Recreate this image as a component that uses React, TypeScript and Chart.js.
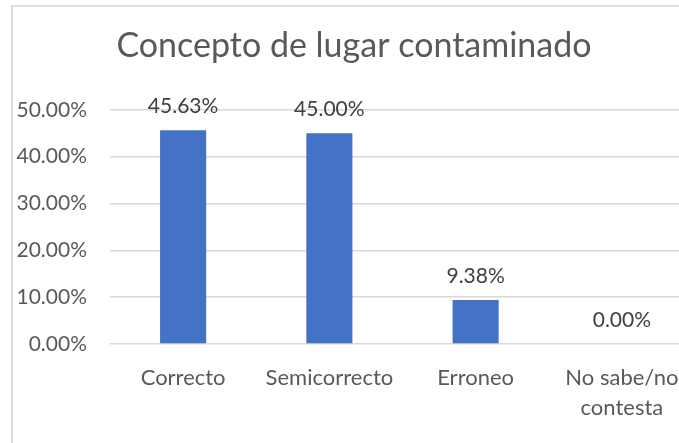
import React, { useEffect, useRef } from "react";
import { Chart, registerables } from "chart.js";

Chart.register(...registerables);

const categories: (string | string[])[] = ["Correcto", "Semicorrecto", "Erroneo", ["No sabe/no", "contesta"]];
const values: number[] = [45.63, 45.0, 9.38, 0.0];
const yTicks: number[] = [0, 10, 20, 30, 40, 50];
const titleText = "Concepto de lugar contaminado";

const FONT = "Lato, 'Open Sans', sans-serif";

const dataLabelPlugin = {
  id: "dataLabels",
  afterDatasetsDraw(chart: any) {
    const ctx = chart.ctx;
    const meta = chart.getDatasetMeta(0);
    ctx.save();
    ctx.font = `21px ${FONT}`;
    ctx.fillStyle = "#404040";
    ctx.textAlign = "center";
    ctx.textBaseline = "middle";
    meta.data.forEach((bar: any, i: number) => {
      const v = chart.data.datasets[0].data[i] as number;
      ctx.fillText(v.toFixed(2) + "%", bar.x, bar.y - 24);
    });
    ctx.restore();
  },
};

export default function App() {
  const ref = useRef<HTMLCanvasElement | null>(null);
  useEffect(() => {
    document.body.style.margin = "0";
    document.body.style.overflow = "hidden";
    if (!ref.current) return;
    const chart = new Chart(ref.current, {
      type: "bar",
      data: {
        labels: categories,
        datasets: [
          {
            data: values,
            backgroundColor: "#4472C4",
            barPercentage: 1,
            categoryPercentage: 0.315,
          },
        ],
      },
      options: {
        animation: false,
        responsive: false,
        layout: { padding: 0 },
        plugins: {
          legend: { display: false },
          tooltip: { enabled: false },
          title: {
            display: true,
            text: titleText,
            color: "#595959",
            font: { family: FONT, size: 34, weight: "normal" },
            padding: { top: 19, bottom: 43 },
          },
        },
        scales: {
          x: {
            grid: { display: false },
            border: { display: false },
            ticks: {
              color: "#595959",
              font: { family: FONT, size: 22, lineHeight: "30px" },
              padding: 11,
              maxRotation: 0,
              minRotation: 0,
              autoSkip: false,
            },
            afterFit: (s: any) => {
              s.height = 103;
            },
          },
          y: {
            min: 0,
            max: yTicks[yTicks.length - 1],
            afterBuildTicks: (s: any) => {
              s.ticks = yTicks.map((v) => ({ value: v }));
            },
            grid: { color: "#d9d9d9", lineWidth: 1.5, drawTicks: false },
            border: { display: false },
            ticks: {
              color: "#595959",
              font: { family: FONT, size: 21 },
              padding: 23,
              callback: (v: any) => Number(v).toFixed(2) + "%",
            },
            afterFit: (s: any) => {
              s.width = 97;
            },
          },
        },
      },
      plugins: [dataLabelPlugin],
    });
    return () => chart.destroy();
  }, []);

  return (
    <div style={{ position: "relative", width: 679, height: 443, overflow: "hidden", background: "#fff" }}>
      <div
        style={{
          position: "absolute",
          left: 11,
          top: 5,
          width: 700,
          height: 460,
          borderLeft: "2px solid #dedede",
          borderTop: "2px solid #dedede",
          background: "#fff",
        }}
      >
        <canvas ref={ref} width={682} height={440} style={{ display: "block", width: 682, height: 440 }} />
      </div>
    </div>
  );
}
